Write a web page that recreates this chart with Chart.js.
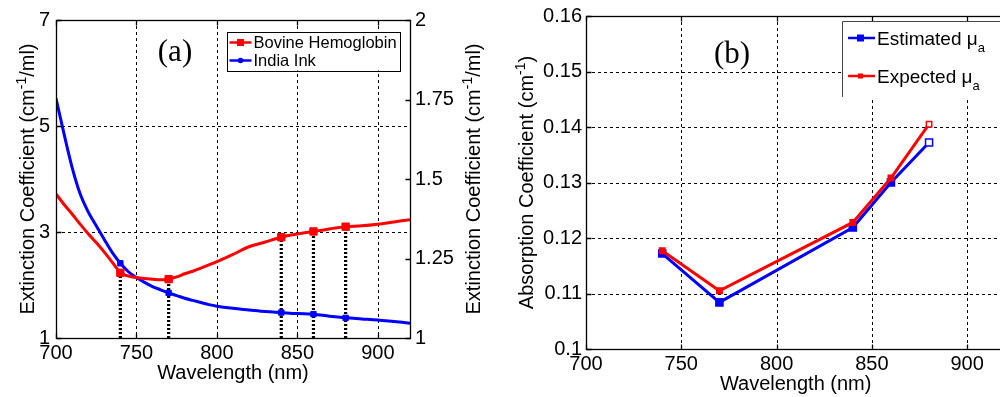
<!DOCTYPE html>
<html><head><meta charset="utf-8">
<script src="https://cdn.jsdelivr.net/npm/chart.js@4"></script>
<style>
html,body{margin:0;padding:0;background:#fff;}
#wrap{position:relative;width:1000px;height:397px;overflow:hidden;background:#fff;}
#ca{position:absolute;left:0;top:0;}
#cb{position:absolute;left:500px;top:0;}
</style></head><body>
<div id="wrap"><canvas id="ca" width="500" height="397"></canvas><canvas id="cb" width="560" height="397"></canvas></div>
<script>
// ---------- Panel (a) data ----------
const wavelengthsA = [700,705,710,715,720,725,730,735,740,745,750,755,760,765,770,775,780,785,790,795,800,810,820,830,840,850,860,870,880,890,900,910,920];
// Bovine hemoglobin (right axis units)
const hemoglobin = [1.453,1.420,1.390,1.358,1.328,1.300,1.270,1.238,1.205,1.195,1.190,1.187,1.185,1.183,1.185,1.192,1.202,1.210,1.220,1.230,1.240,1.263,1.287,1.302,1.317,1.327,1.335,1.343,1.350,1.353,1.358,1.365,1.372];
// India ink (left axis units)
const indiaInk = [5.52,4.85,4.22,3.72,3.38,3.12,2.86,2.61,2.41,2.25,2.14,2.05,1.97,1.91,1.85,1.80,1.75,1.71,1.67,1.63,1.60,1.56,1.53,1.50,1.48,1.46,1.45,1.41,1.38,1.36,1.34,1.31,1.28];
const markerWavelengths = [740,770,840,860,880];
const xTicksA = [700,750,800,850,900];
const yLeftTicksA = [1,3,5,7];
const yRightTicksA = [1,1.25,1.5,1.75,2];
const gridXA = [750,800,850,900];
const gridYA = [3,5];

// ---------- Panel (b) data ----------
const wavelengthsB = [740,770,840,860,880];
const estimatedMua = [0.1172,0.1084,0.1219,0.1300,0.1372];
const expectedMua = [0.1177,0.1105,0.1228,0.1308,0.1405];
const xTicksB = [700,750,800,850,900];
const yTicksB = [0.1,0.11,0.12,0.13,0.14,0.15,0.16];
const gridXB = [750,800,850,900];
const gridYB = [0.11,0.12,0.13,0.14,0.15];

const SANS = '"Liberation Sans", Arial, sans-serif';
const SERIF = '"Liberation Serif", "Times New Roman", serif';
const RED = '#ff0000', BLUE = '#0000ff';
const FS = 20;

function fixedTicks(list){ return function(scale){ scale.ticks = list.map(v=>({value:v})); }; }

function drawRich(ctx, parts, x, y, rot, size){
  ctx.save();
  ctx.translate(x,y); ctx.rotate(rot);
  const small = Math.round(size*0.68);
  let w = 0;
  parts.forEach(p=>{ ctx.font = ((p.sup||p.sub)?small:size)+'px '+SANS; p.w = ctx.measureText(p.t).width; w += p.w; });
  let cx = -w/2;
  ctx.fillStyle = '#000'; ctx.textBaseline = 'alphabetic'; ctx.textAlign='left';
  const base = size*0.36;
  parts.forEach(p=>{
    ctx.font = ((p.sup||p.sub)?small:size)+'px '+SANS;
    let dy = base;
    if (p.sup) dy = base - size*0.42;
    if (p.sub) dy = base + size*0.3;
    ctx.fillText(p.t, cx, dy);
    cx += p.w;
  });
  ctx.restore();
}

function framePlugin(cfg){
  return {
    id:'frame'+cfg.name,
    beforeDatasetsDraw(chart){
      const {ctx, chartArea:a, scales} = chart;
      ctx.save();
      ctx.strokeStyle = '#000'; ctx.lineWidth = 1; ctx.setLineDash([3,3]);
      cfg.gridX.forEach(v=>{ const x = Math.round(scales.x.getPixelForValue(v))+0.5; ctx.beginPath(); ctx.moveTo(x,a.top); ctx.lineTo(x,a.bottom); ctx.stroke(); });
      cfg.gridY.forEach(v=>{ const y = Math.round(scales.y.getPixelForValue(v))+0.5; ctx.beginPath(); ctx.moveTo(a.left,y); ctx.lineTo(a.right,y); ctx.stroke(); });
      ctx.restore();
    },
    afterDatasetsDraw(chart){
      const {ctx, chartArea:a, scales} = chart;
      ctx.save();
      ctx.strokeStyle = '#000'; ctx.lineWidth = 1.3; ctx.setLineDash([]);
      const L = Math.round(a.left)+0.5, R = Math.round(a.right)+0.5, T = Math.round(a.top)+0.5, B = Math.round(a.bottom)+0.5;
      ctx.strokeRect(L, T, R-L, B-T);
      const tl = 5;
      ctx.beginPath();
      cfg.xTicks.forEach(v=>{ const x = Math.round(scales.x.getPixelForValue(v))+0.5; ctx.moveTo(x,B); ctx.lineTo(x,B-tl); ctx.moveTo(x,T); ctx.lineTo(x,T+tl); });
      cfg.yTicks.forEach(v=>{ const y = Math.round(scales.y.getPixelForValue(v))+0.5; ctx.moveTo(L,y); ctx.lineTo(L+tl,y); if(!cfg.y2Ticks){ ctx.moveTo(R,y); ctx.lineTo(R-tl,y);} });
      if (cfg.y2Ticks) cfg.y2Ticks.forEach(v=>{ const y = Math.round(scales.y2.getPixelForValue(v))+0.5; ctx.moveTo(R,y); ctx.lineTo(R-tl,y); });
      ctx.stroke();
      ctx.restore();
      cfg.extra(chart);
    }
  };
}

// ---------- Chart (a) ----------
const hemoAt = w => hemoglobin[wavelengthsA.indexOf(w)];
const dropLines = [];
markerWavelengths.forEach(w=>{ dropLines.push({x:w,y:1},{x:w,y:hemoAt(w)},{x:w,y:null}); });
const isMarkA = ctx => markerWavelengths.includes(wavelengthsA[ctx.dataIndex]);

new Chart(document.getElementById('ca'), {
  type:'line',
  data:{ datasets:[
    { label:'Bovine Hemoglobin', yAxisID:'y2', data: wavelengthsA.map((w,i)=>({x:w,y:hemoglobin[i]})),
      borderColor:RED, backgroundColor:RED, borderWidth:3, pointStyle:'rect',
      pointRadius: c=>isMarkA(c)?5.2:0, pointBorderWidth:1, cubicInterpolationMode:'monotone' },
    { label:'India Ink', yAxisID:'y', data: wavelengthsA.map((w,i)=>({x:w,y:indiaInk[i]})),
      borderColor:BLUE, backgroundColor:BLUE, borderWidth:3, pointStyle:'rect',
      pointRadius: c=>isMarkA(c)?3.8:0, pointBorderWidth:1, cubicInterpolationMode:'monotone' },
    { label:'drop', yAxisID:'y2', data: dropLines, borderColor:'#000', borderWidth:3.2, borderDash:[2,2],
      pointRadius:0, spanGaps:false, fill:false }
  ]},
  options:{
    responsive:false, animation:false, devicePixelRatio:1,
    layout:{padding:{top:20,left:0,right:0,bottom:0}},
    plugins:{legend:{display:false}, tooltip:{enabled:false}},
    scales:{
      x:{ type:'linear', min:700, max:920, afterBuildTicks:fixedTicks(xTicksA),
          grid:{display:false, drawTicks:false}, border:{display:false},
          ticks:{color:'#000', font:{family:SANS,size:FS}, padding:3, maxRotation:0, autoSkip:false, callback:v=>String(v)},
          afterFit:s=>{s.height=59;} },
      y:{ type:'linear', position:'left', min:1, max:7, afterBuildTicks:fixedTicks(yLeftTicksA),
          grid:{display:false, drawTicks:false}, border:{display:false},
          ticks:{color:'#000', font:{family:SANS,size:FS}, padding:6, autoSkip:false, callback:v=>String(v)},
          afterFit:s=>{s.width=56;} },
      y2:{ type:'linear', position:'right', min:1, max:2, afterBuildTicks:fixedTicks(yRightTicksA),
          grid:{display:false, drawTicks:false}, border:{display:false},
          ticks:{color:'#000', font:{family:SANS,size:FS}, padding:5, autoSkip:false, callback:v=>String(v)},
          afterFit:s=>{s.width=90;} }
    }
  },
  plugins:[framePlugin({name:'a', gridX:gridXA, gridY:gridYA, xTicks:xTicksA, yTicks:yLeftTicksA, y2Ticks:yRightTicksA,
    extra(chart){
      const {ctx, chartArea:a} = chart;
      drawRich(ctx,[{t:'Extinction Coefficient (cm'},{t:'-1',sup:1},{t:'/ml)'}], a.left-29, (a.top+a.bottom)/2, -Math.PI/2, FS);
      drawRich(ctx,[{t:'Extinction Coefficient (cm'},{t:'-1',sup:1},{t:'/ml)'}], a.right+63, (a.top+a.bottom)/2, -Math.PI/2, FS);
      drawRich(ctx,[{t:'Wavelength (nm)'}], (a.left+a.right)/2, a.bottom+34, 0, FS);
      ctx.save(); ctx.font = '31px '+SERIF; ctx.fillStyle='#000'; ctx.textAlign='center'; ctx.textBaseline='middle';
      ctx.fillText('(a)', a.left+119, a.top+33); ctx.restore();
      ctx.save();
      const bx = a.right-183.5, by = a.top+11.5, bw = 173, bh = 39;
      ctx.fillStyle='#fff'; ctx.fillRect(bx,by,bw,bh);
      ctx.strokeStyle='#000'; ctx.lineWidth=1; ctx.strokeRect(Math.round(bx)+0.5,Math.round(by)+0.5,bw,bh);
      const rows = [[chart.data.datasets[0].label, RED, 'rect'], [chart.data.datasets[1].label, BLUE, 'circle']];
      rows.forEach((r,i)=>{
        const yy = by + 11 + i*18;
        ctx.strokeStyle=r[1]; ctx.lineWidth=2.5; ctx.beginPath(); ctx.moveTo(bx+3,yy); ctx.lineTo(bx+25,yy); ctx.stroke();
        ctx.fillStyle=r[1];
        if (r[2]==='rect') ctx.fillRect(bx+14-3.5, yy-3.5, 7, 7); else { ctx.beginPath(); ctx.arc(bx+14,yy,2.8,0,Math.PI*2); ctx.fill(); }
        ctx.fillStyle='#000'; ctx.font='16.5px '+SANS; ctx.textBaseline='middle'; ctx.textAlign='left';
        ctx.fillText(r[0], bx+27, yy+1);
      });
      ctx.restore();
    }})]
});

// ---------- Chart (b) ----------
const lastB = c => c.dataIndex === wavelengthsB.length-1;
new Chart(document.getElementById('cb'), {
  type:'line',
  data:{ datasets:[
    { label:'Expected', data: wavelengthsB.map((w,i)=>({x:w,y:expectedMua[i]})),
      borderColor:RED, backgroundColor:RED, borderWidth:3, pointStyle:'rect',
      pointRadius:3.8, pointBorderWidth:1.5, pointBackgroundColor:c=>lastB(c)?'#fff':RED, tension:0 },
    { label:'Estimated', data: wavelengthsB.map((w,i)=>({x:w,y:estimatedMua[i]})),
      borderColor:BLUE, backgroundColor:BLUE, borderWidth:3, pointStyle:'rect',
      pointRadius:5, pointBorderWidth:1.5, pointBackgroundColor:c=>lastB(c)?'#fff':BLUE, tension:0 }
  ]},
  options:{
    responsive:false, animation:false, devicePixelRatio:1,
    layout:{padding:{top:16,left:0,right:54.7,bottom:0}},
    plugins:{legend:{display:false}, tooltip:{enabled:false}},
    scales:{
      x:{ type:'linear', min:700, max:920, afterBuildTicks:fixedTicks(xTicksB),
          grid:{display:false, drawTicks:false}, border:{display:false},
          ticks:{color:'#000', font:{family:SANS,size:FS}, padding:3, maxRotation:0, autoSkip:false, callback:v=>String(v)},
          afterFit:s=>{s.height=48;} },
      y:{ type:'linear', position:'left', min:0.1, max:0.16, afterBuildTicks:fixedTicks(yTicksB),
          grid:{display:false, drawTicks:false}, border:{display:false},
          ticks:{color:'#000', font:{family:SANS,size:FS}, padding:4, autoSkip:false, callback:v=>String(v)},
          afterFit:s=>{s.width=86;} }
    }
  },
  plugins:[framePlugin({name:'b', gridX:gridXB, gridY:gridYB, xTicks:xTicksB, yTicks:yTicksB,
    extra(chart){
      const {ctx, chartArea:a} = chart;
      drawRich(ctx,[{t:'Absorption Coefficient (cm'},{t:'-1',sup:1},{t:')'}], a.left-60, (a.top+a.bottom)/2, -Math.PI/2, FS);
      drawRich(ctx,[{t:'Wavelength (nm)'}], (a.left+a.right)/2, a.bottom+34, 0, FS);
      ctx.save(); ctx.font = '31px '+SERIF; ctx.fillStyle='#000'; ctx.textAlign='center'; ctx.textBaseline='middle';
      ctx.fillText('(b)', a.left+146, a.top+39); ctx.restore();
      ctx.save();
      const bx = a.left+256, by = a.top+5;
      ctx.fillStyle='#fff'; ctx.fillRect(bx,by,300,76);
      ctx.strokeStyle='#444'; ctx.lineWidth=1; ctx.beginPath();
      ctx.moveTo(Math.round(bx)+0.5, by+76); ctx.lineTo(Math.round(bx)+0.5, Math.round(by)+0.5); ctx.lineTo(bx+300, Math.round(by)+0.5); ctx.stroke();
      const rows = [['Estimated ', BLUE, 7], ['Expected ', RED, 5]];
      rows.forEach((r,i)=>{
        const yy = by + 17 + i*38;
        ctx.strokeStyle=r[1]; ctx.lineWidth=2.5; ctx.beginPath(); ctx.moveTo(bx+6,yy); ctx.lineTo(bx+33,yy); ctx.stroke();
        ctx.fillStyle=r[1]; ctx.fillRect(bx+18.5-r[2]/2, yy-r[2]/2, r[2], r[2]);
        ctx.fillStyle='#000'; ctx.font='19px '+SANS; ctx.textBaseline='alphabetic'; ctx.textAlign='left';
        const tx = bx+35, base = yy+6.5;
        ctx.fillText(r[0], tx, base);
        let w = ctx.measureText(r[0]).width;
        ctx.fillText('\u03BC', tx+w, base);
        w += ctx.measureText('\u03BC').width;
        ctx.font='13px '+SANS; ctx.fillText('a', tx+w, base+7);
      });
      ctx.restore();
    }})]
});
</script>
</body></html>
